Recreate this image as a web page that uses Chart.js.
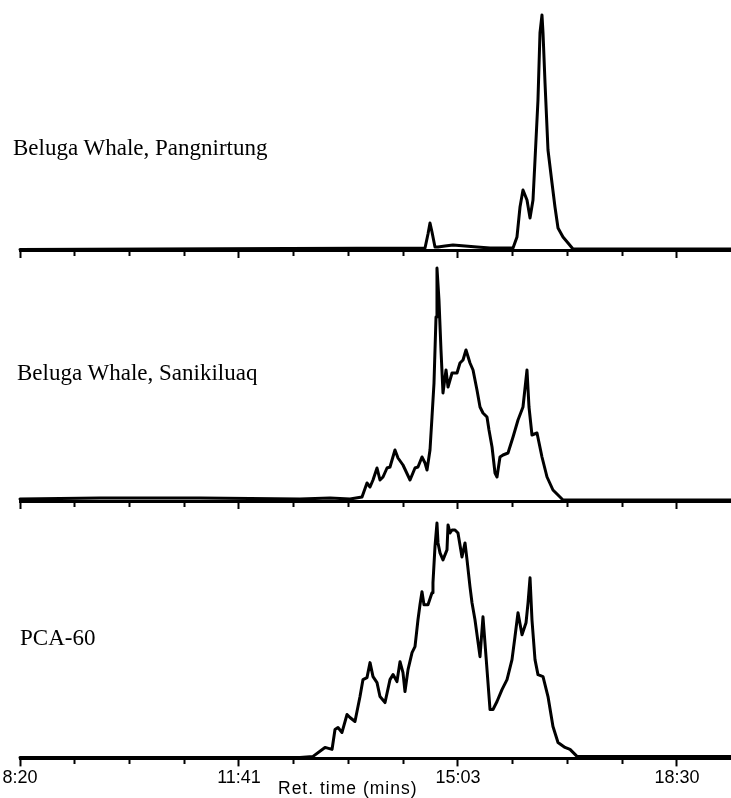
<!DOCTYPE html>
<html><head><meta charset="utf-8">
<script src="https://cdn.jsdelivr.net/npm/chart.js@4.4.1/dist/chart.umd.min.js"></script>
<style>
html,body{margin:0;padding:0;background:#fff;}
body{width:731px;height:798px;position:relative;overflow:hidden;}
canvas{position:absolute;left:0;}
.lbl{position:absolute;font-family:"Liberation Serif","Times New Roman",serif;font-size:23px;line-height:23px;color:#000;white-space:nowrap;}
.ttl{position:absolute;font-family:"Liberation Sans",Arial,sans-serif;font-size:17.5px;line-height:17.5px;letter-spacing:1px;color:#000;white-space:nowrap;}
</style></head><body>
<canvas id="c1" width="731" height="262" style="top:0px"></canvas>
<canvas id="c2" width="731" height="254" style="top:258px"></canvas>
<canvas id="c3" width="731" height="286" style="top:512px"></canvas>
<div class="lbl" style="left:13px;top:136px">Beluga Whale, Pangnirtung</div>
<div class="lbl" style="left:17px;top:361px">Beluga Whale, Sanikiluaq</div>
<div class="lbl" style="left:20px;top:626px">PCA-60</div>
<div class="ttl" style="left:278px;top:780px">Ret. time (mins)</div>
<script>
// ---- data (retention time in minutes, relative detector response) ----
const sampleNames = ['Beluga Whale, Pangnirtung', 'Beluga Whale, Sanikiluaq', 'PCA-60'];
const tickLabels = ['8:20', '11:41', '15:03', '18:30'];

const pangnirtungTime = [8.333, 14.601, 14.647, 14.678, 14.709, 14.755, 14.802, 14.910, 15.034, 15.220, 15.405, 15.607, 15.963, 16.024, 16.071, 16.117, 16.179, 16.226, 16.272, 16.303, 16.349, 16.380, 16.411, 16.427, 16.458, 16.504, 16.566, 16.612, 16.659, 16.736, 16.814, 16.891, 19.336];
const pangnirtungResp = [0.5, 2, 16, 27, 18, 3, 3, 4, 5, 4, 3, 2, 2, 13, 43, 60, 50, 32, 50, 90, 150, 217, 235, 217, 167, 100, 67, 43, 22, 13, 7, 1, 1];

const sanikiluaqTime = [8.333, 9.571, 11.119, 12.666, 13.131, 13.440, 13.626, 13.703, 13.750, 13.796, 13.858, 13.904, 13.951, 14.013, 14.059, 14.136, 14.183, 14.260, 14.369, 14.446, 14.492, 14.554, 14.601, 14.632, 14.678, 14.709, 14.740, 14.771, 14.786, 14.817, 14.848, 14.879, 14.926, 14.957, 15.019, 15.096, 15.142, 15.189, 15.235, 15.297, 15.344, 15.405, 15.452, 15.498, 15.560, 15.591, 15.638, 15.684, 15.715, 15.761, 15.808, 15.885, 15.963, 16.040, 16.117, 16.179, 16.210, 16.256, 16.334, 16.411, 16.489, 16.581, 16.690, 16.736, 19.336];
const sanikiluaqResp = [2, 3, 3, 2, 3, 2, 4, 18, 14, 21, 33, 21, 24, 33, 34, 51, 43, 36, 21, 33, 34, 44, 38, 31, 51, 84, 118, 184, 233, 201, 151, 108, 131, 114, 128, 128, 138, 141, 151, 138, 131, 111, 94, 88, 84, 71, 54, 28, 24, 44, 46, 48, 64, 81, 94, 131, 94, 66, 68, 44, 24, 11, 4, 1, 1];

const pca60Time = [8.333, 12.666, 12.868, 13.053, 13.162, 13.208, 13.254, 13.316, 13.394, 13.440, 13.517, 13.595, 13.641, 13.703, 13.750, 13.796, 13.858, 13.904, 13.982, 14.059, 14.106, 14.167, 14.214, 14.260, 14.291, 14.338, 14.400, 14.446, 14.492, 14.523, 14.554, 14.585, 14.647, 14.709, 14.724, 14.755, 14.786, 14.802, 14.833, 14.879, 14.941, 14.957, 14.988, 15.019, 15.065, 15.111, 15.173, 15.220, 15.251, 15.297, 15.328, 15.374, 15.452, 15.498, 15.545, 15.607, 15.653, 15.715, 15.792, 15.870, 15.947, 15.993, 16.040, 16.102, 16.164, 16.195, 16.226, 16.256, 16.303, 16.349, 16.427, 16.504, 16.581, 16.659, 16.767, 16.845, 16.953, 19.336];
const pca60Resp = [1, 1, 2, 11, 9, 29, 31, 26, 44, 41, 37, 62, 79, 81, 96, 82, 76, 62, 56, 79, 84, 77, 97, 86, 67, 89, 106, 112, 139, 154, 167, 154, 154, 166, 176, 212, 236, 216, 206, 199, 209, 234, 226, 229, 229, 226, 202, 216, 199, 172, 156, 139, 102, 142, 102, 49, 49, 57, 69, 79, 99, 122, 146, 124, 136, 156, 181, 139, 99, 84, 82, 62, 32, 16, 11, 9, 2, 2];

// ---- axis range ----
const xMin = 8.3333, majorStep = 3.3889, minorPerMajor = 4, xMax = 19.336, yMax = 240;

const tickValues = [], tickText = [];
for (let k = 0; k <= (tickLabels.length - 1) * minorPerMajor; k++) {
  tickValues.push(xMin + k * majorStep / minorPerMajor);
  tickText.push(k % minorPerMajor === 0 ? tickLabels[k / minorPerMajor] : '');
}

function makeChart(id, times, resp, showLabels, pad) {
  const ctx = document.getElementById(id);
  return new Chart(ctx, {
    type: 'line',
    data: {
      datasets: [{
        label: '',
        data: times.map((t, i) => ({x: t, y: resp[i]})),
        borderColor: '#000',
        borderWidth: 3,
        borderJoinStyle: 'round',
        borderCapStyle: 'round',
        pointRadius: 0,
        tension: 0,
        fill: false,
        clip: 8
      }]
    },
    options: {
      responsive: false,
      animation: false,
      devicePixelRatio: 1,
      events: [],
      layout: {padding: pad},
      plugins: {legend: {display: false}, tooltip: {enabled: false}, title: {display: false}},
      scales: {
        x: {
          type: 'linear',
          min: xMin,
          max: xMax,
          afterBuildTicks: (scale) => { scale.ticks = tickValues.map(v => ({value: v})); },
          border: {display: true, color: '#000', width: 3},
          grid: {
            drawOnChartArea: false,
            drawTicks: true,
            tickLength: 8,
            tickWidth: 2,
            tickColor: '#000',
            tickBorderDash: (c) => (c.index % minorPerMajor === 0 ? [] : [4, 100])
          },
          ticks: {
            display: showLabels,
            autoSkip: false,
            maxRotation: 0,
            padding: 1,
            color: '#000',
            font: {family: '"Liberation Sans", Arial, sans-serif', size: 18, lineHeight: 1.2},
            callback: (v, i) => tickText[i]
          }
        },
        y: {display: false, min: 0, max: yMax}
      }
    }
  });
}

makeChart('c1', pangnirtungTime, pangnirtungResp, false, {left: 20, right: 0, top: 10, bottom: 4});
makeChart('c2', sanikiluaqTime, sanikiluaqResp, false, {left: 20, right: 0, top: 3, bottom: 3});
makeChart('c3', pca60Time, pca60Resp, true, {left: 20, right: 0, top: 7, bottom: 8});
</script>
</body></html>
